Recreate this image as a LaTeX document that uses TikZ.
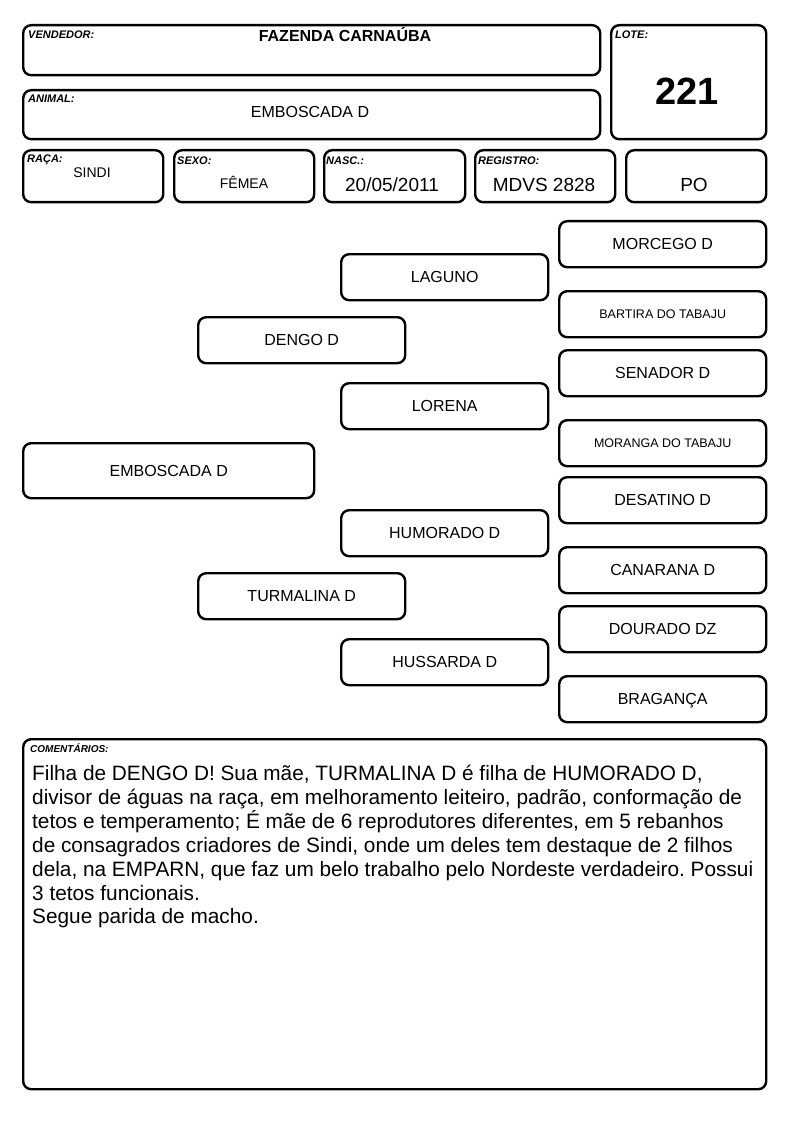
\documentclass[tikz,border=0pt]{standalone}
\usepackage{fontspec}
\setmainfont{Liberation Sans}
\frenchspacing
\begin{document}
\begin{tikzpicture}[x=1pt,y=-1pt,
 bx/.style={draw, rounded corners=8pt, line width=2.4pt, inner sep=0pt, anchor=north west},
 lbl/.style={anchor=base west, inner sep=0pt, font=\fontsize{11}{13}\selectfont\bfseries\itshape},
 val/.style={anchor=base, inner sep=0pt},
 pb/.style={bx, minimum width=207pt, minimum height=46pt, text height=11.5pt, text depth=0pt, font=\fontsize{16}{19}\selectfont},
 sm/.style={font=\fontsize{12.5}{15}\selectfont, text height=9pt}]
\useasboundingbox[fill=white] (0,0) rectangle (794,1123);
% header boxes
\node[bx, minimum width=577pt, minimum height=50pt] (vend) at (22,24) {};
\node[bx, minimum width=155pt, minimum height=114pt] (lote) at (610,24) {};
\node[bx, minimum width=577pt, minimum height=49pt] (anim) at (22,89) {};
\node[bx, minimum width=140pt, minimum height=52pt] (raca) at (22,149) {};
\node[bx, minimum width=140pt, minimum height=52pt] (sexo) at (173,149) {};
\node[bx, minimum width=141pt, minimum height=52pt] (nasc) at (323,149) {};
\node[bx, minimum width=140pt, minimum height=52pt] (reg) at (474,149) {};
\node[bx, minimum width=140pt, minimum height=52pt] (po) at (625,149) {};
% labels
\node[lbl] (lvend) at (28,39) {VENDEDOR:};
\node[lbl] (llote) at (615,39) {LOTE:};
\node[lbl] (lanim) at (28,102.5) {ANIMAL:};
\node[lbl] (lraca) at (27,163) {RAÇA:};
\node[lbl] (lsexo) at (177,165) {SEXO:};
\node[lbl] (lnasc) at (326,165) {NASC.:};
\node[lbl] (lreg) at (478,165) {REGISTRO:};
% values
\node[val, font=\fontsize{16}{19}\selectfont\bfseries] (tvend) at (345,42) {FAZENDA CARNAÚBA};
\node[val, font=\fontsize{38}{44}\selectfont\bfseries] (tlote) at (687,105) {221};
\node[val, font=\fontsize{16}{19}\selectfont] (tanim) at (310,118) {EMBOSCADA D};
\node[val, font=\fontsize{14}{17}\selectfont] (traca) at (92,178) {SINDI};
\node[val, font=\fontsize{14}{17}\selectfont] (tsexo) at (244,189) {FÊMEA};
\node[val, font=\fontsize{19}{22}\selectfont] (tnasc) at (392,192) {20/05/2011};
\node[val, font=\fontsize{19}{22}\selectfont] (treg) at (544,192) {MDVS 2828};
\node[val, font=\fontsize{19}{22}\selectfont] (tpo) at (694,192) {PO};
% pedigree
\node[pb, minimum width=291pt, minimum height=55pt] (embo) at (22,442) {EMBOSCADA D};
\node[pb] (dengo) at (197,316) {DENGO D};
\node[pb] (turm) at (197,572) {TURMALINA D};
\node[pb] (laguno) at (340,253) {LAGUNO};
\node[pb] (lorena) at (340,382) {LORENA};
\node[pb] (humor) at (340,509) {HUMORADO D};
\node[pb] (huss) at (340,638) {HUSSARDA D};
\node[pb] (morc) at (558,220) {MORCEGO D};
\node[pb, sm] (bart) at (558,290) {BARTIRA DO TABAJU};
\node[pb] (sena) at (558,349) {SENADOR D};
\node[pb, sm] (mora) at (558,419) {MORANGA DO TABAJU};
\node[pb] (desa) at (558,476) {DESATINO D};
\node[pb] (cana) at (558,546) {CANARANA D};
\node[pb] (dour) at (558,605) {DOURADO DZ};
\node[pb] (brag) at (558,675) {BRAGANÇA};
% comments
\node[bx, minimum width=743pt, minimum height=350pt] (com) at (22,738) {};
\node[lbl, font=\fontsize{10}{12}\selectfont\bfseries\itshape] (lcom) at (30,752) {COMENTÁRIOS:};
\node[anchor=north west, inner sep=0pt, align=left, font=\fontsize{20.8}{23.9}\selectfont] (tcom) at (32,765)
{Filha de DENGO D! Sua mãe, TURMALINA D é filha de HUMORADO D,\\
divisor de águas na raça, em melhoramento leiteiro, padrão, conformação de\\
tetos e temperamento; É mãe de 6 reprodutores diferentes, em 5 rebanhos\\
de consagrados criadores de Sindi, onde um deles tem destaque de 2 filhos\\
dela, na EMPARN, que faz um belo trabalho pelo Nordeste verdadeiro. Possui\\
3 tetos funcionais.\\
Segue parida de macho.};
\end{tikzpicture}
\end{document}
